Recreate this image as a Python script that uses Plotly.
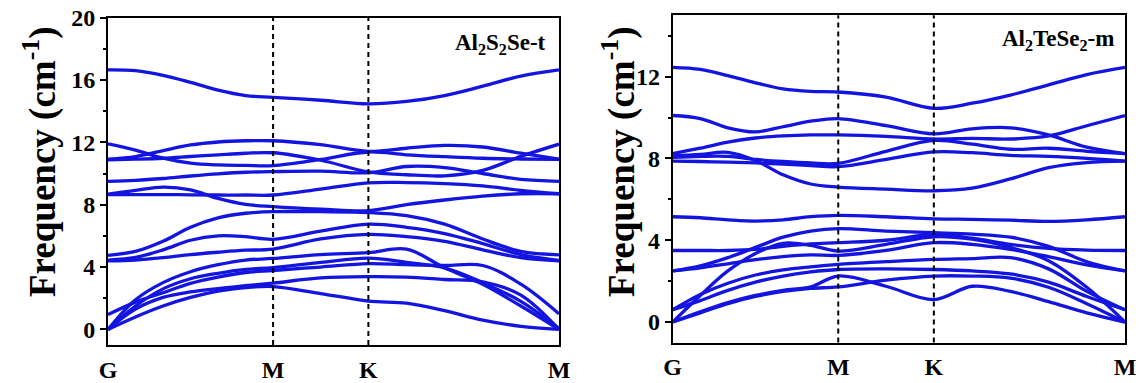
import numpy as np
import plotly.graph_objects as go

# ---------------- data ----------------
# k-path labels
kpath_labels = ["G", "M", "K", "M"]
# sample points: 7 on G-M, mid + K on M-K, 5 on K-M
# ---- left panel: Al2S2Se-t (frequency, cm-1) ----
left_b01 = [0.0, 0.8, 1.5, 2.05, 2.45, 2.68, 2.75, 2.3, 1.82, 1.68, 1.2, 0.6, 0.2, 0.0]
left_b02 = [0.0, 1.3, 2.05, 2.4, 2.62, 2.8, 2.97, 3.3, 3.38, 3.35, 3.2, 3.05, 2.2, 0.0]
left_b03 = [0.95, 1.75, 2.35, 2.95, 3.35, 3.65, 3.78, 4.0, 4.22, 4.15, 4.1, 4.1, 2.9, 1.0]
left_b04 = [0.0, 1.5, 2.6, 3.25, 3.6, 3.85, 3.97, 4.3, 4.57, 4.3, 3.95, 3.0, 1.8, 0.05]
left_b05 = [0.0, 1.9, 3.0, 3.7, 4.15, 4.45, 4.55, 4.8, 4.92, 5.15, 3.95, 2.9, 1.5, 0.0]
left_b06 = [4.4, 4.45, 4.6, 4.8, 4.95, 5.08, 5.15, 5.8, 6.1, 5.95, 5.65, 5.1, 4.6, 4.4]
left_b07 = [4.45, 4.62, 5.1, 5.72, 6.0, 5.95, 5.78, 6.3, 6.75, 6.55, 6.15, 5.5, 4.8, 4.42]
left_b08 = [4.75, 5.0, 5.65, 6.55, 7.15, 7.45, 7.55, 7.55, 7.5, 7.3, 6.75, 5.8, 5.0, 4.78]
left_b09 = [8.68, 8.92, 9.12, 8.95, 8.4, 8.02, 7.88, 7.72, 7.62, 8.0, 8.3, 8.55, 8.7, 8.7]
left_b10 = [8.65, 8.65, 8.65, 8.63, 8.62, 8.62, 8.62, 9.0, 9.4, 9.42, 9.35, 9.2, 8.92, 8.7]
left_b11 = [9.5, 9.56, 9.68, 9.84, 9.98, 10.08, 10.12, 10.15, 10.05, 10.45, 10.38, 10.0, 9.62, 9.5]
left_b12 = [10.88, 10.92, 10.98, 11.09, 11.2, 11.3, 11.33, 10.85, 10.1, 9.92, 9.85, 10.2, 11.1, 11.88]
left_b13 = [11.9, 11.5, 10.98, 10.66, 10.55, 10.52, 10.5, 10.9, 11.38, 11.2, 11.08, 10.98, 10.93, 10.9]
left_b14 = [10.92, 11.09, 11.47, 11.83, 12.02, 12.1, 12.1, 11.85, 11.42, 11.62, 11.8, 11.7, 11.3, 10.92]
left_b15 = [16.65, 16.6, 16.3, 15.85, 15.35, 15.0, 14.88, 14.7, 14.47, 14.62, 15.0, 15.6, 16.25, 16.65]

# ---- right panel: Al2TeSe2-m (frequency, cm-1) ----
right_b01 = [0.0, 0.45, 0.9, 1.25, 1.5, 1.65, 1.72, 2.05, 2.25, 2.25, 2.15, 1.7, 0.9, 0.0]
right_b02 = [0.0, 0.5, 0.95, 1.3, 1.55, 1.72, 2.25, 1.75, 1.1, 1.75, 1.5, 1.0, 0.45, 0.0]
right_b03 = [0.6, 1.05, 1.55, 1.95, 2.25, 2.45, 2.57, 2.6, 2.57, 2.5, 2.35, 1.95, 1.25, 0.6]
right_b04 = [0.6, 1.35, 1.9, 2.3, 2.55, 2.7, 2.82, 2.95, 3.06, 3.1, 3.15, 2.6, 1.5, 0.6]
right_b05 = [2.5, 2.65, 2.85, 3.05, 3.2, 3.28, 3.26, 3.5, 3.88, 3.8, 3.55, 3.2, 2.8, 2.5]
right_b06 = [0.0, 1.3, 2.5, 3.35, 3.85, 3.75, 3.47, 3.8, 4.17, 4.05, 3.65, 3.0, 1.7, 0.0]
right_b07 = [3.5, 3.5, 3.5, 3.55, 3.7, 3.82, 3.88, 4.0, 4.28, 4.1, 3.8, 3.6, 3.52, 3.5]
right_b08 = [2.5, 2.75, 3.15, 3.65, 4.15, 4.45, 4.57, 4.45, 4.37, 4.3, 4.15, 3.7, 2.95, 2.5]
right_b09 = [5.15, 5.1, 5.0, 4.94, 5.0, 5.15, 5.22, 5.15, 5.05, 5.02, 4.98, 4.92, 5.0, 5.15]
right_b10 = [8.13, 8.2, 8.3, 7.9, 7.2, 6.75, 6.6, 6.5, 6.42, 6.55, 7.0, 7.55, 7.8, 7.87]
right_b11 = [7.87, 7.85, 7.82, 7.78, 7.72, 7.65, 7.6, 7.95, 8.32, 8.28, 8.15, 8.1, 8.0, 7.87]
right_b12 = [8.05, 8.1, 8.1, 7.95, 7.85, 7.78, 7.76, 8.35, 8.88, 8.7, 8.45, 8.5, 8.35, 8.24]
right_b13 = [8.24, 8.5, 8.8, 9.0, 9.1, 9.15, 9.15, 9.08, 8.95, 8.98, 8.95, 9.1, 9.6, 10.1]
right_b14 = [10.1, 9.95, 9.5, 9.3, 9.55, 9.82, 9.95, 9.6, 9.2, 9.45, 9.5, 9.15, 8.55, 8.24]
right_b15 = [12.45, 12.35, 12.05, 11.7, 11.4, 11.28, 11.25, 11.0, 10.45, 10.7, 11.1, 11.6, 12.1, 12.45]

left_label = "Al<sub>2</sub>S<sub>2</sub>Se-t"
right_label = "Al<sub>2</sub>TeSe<sub>2</sub>-m"
left_yticks = [0, 4, 8, 12, 16, 20]
right_yticks = [0, 4, 8, 12]

# ---------------- k-path geometry (hexagonal) ----------------
seg = [1 / np.sqrt(3), 1 / 3, 2 / 3]
nodes = np.concatenate([[0], np.cumsum(seg)])
kx = np.concatenate([
    nodes[0] + np.linspace(0, 1, 7) * seg[0],
    nodes[1] + np.array([0.5, 1.0]) * seg[1],
    nodes[2] + np.linspace(0.2, 1, 5) * seg[2],
])

left_bands = [left_b01, left_b02, left_b03, left_b04, left_b05, left_b06, left_b07, left_b08,
              left_b09, left_b10, left_b11, left_b12, left_b13, left_b14, left_b15]
right_bands = [right_b01, right_b02, right_b03, right_b04, right_b05, right_b06, right_b07, right_b08,
               right_b09, right_b10, right_b11, right_b12, right_b13, right_b14, right_b15]

BLUE = "rgb(20,20,225)"
FONT = "Liberation Serif, Times New Roman, serif"
W, H = 1148, 383

fig = go.Figure()
for b in left_bands:
    fig.add_trace(go.Scatter(x=kx, y=b, mode="lines", xaxis="x", yaxis="y",
                             line=dict(color=BLUE, width=3.3, shape="spline", smoothing=1.0),
                             showlegend=False, hoverinfo="skip"))
for b in right_bands:
    fig.add_trace(go.Scatter(x=kx, y=b, mode="lines", xaxis="x2", yaxis="y2",
                             line=dict(color=BLUE, width=3.3, shape="spline", smoothing=1.0),
                             showlegend=False, hoverinfo="skip"))

# dashed high-symmetry lines
for xa, ya in (("x", "y"), ("x2", "y2")):
    for kv in nodes[1:3]:
        fig.add_shape(type="line", xref=xa, yref=ya + " domain", x0=kv, x1=kv, y0=0, y1=1,
                      line=dict(color="black", width=2, dash="5px,4px"), layer="above")

common_x = dict(range=[nodes[0], nodes[-1]], tickvals=list(nodes), ticktext=kpath_labels,
                showline=True, mirror=True, linecolor="black", linewidth=2,
                ticks="", ticklabelstandoff=2,
                tickfont=dict(family=FONT, size=24, color="black", weight="bold"),
                showgrid=False, zeroline=False, automargin=False, fixedrange=True)
common_y = dict(showline=True, mirror=True, linecolor="black", linewidth=2,
                ticks="outside", ticklen=6, tickwidth=2, tickcolor="black",
                minor=dict(dtick=2, tick0=0, ticks="outside", ticklen=3, tickwidth=2, tickcolor="black"),
                tickfont=dict(family=FONT, size=24, color="black", weight="bold"),
                showgrid=False, zeroline=False, automargin=False, fixedrange=True)

fig.update_layout(
    width=W, height=H, margin=dict(l=0, r=0, t=0, b=0),
    paper_bgcolor="white", plot_bgcolor="white", template="none",
    xaxis=dict(domain=[108 / W, 559 / W], anchor="y", **common_x),
    yaxis=dict(domain=[1 - 345 / H, 1 - 17.6 / H], anchor="x", range=[-1, 20],
               tickvals=left_yticks, **common_y),
    xaxis2=dict(domain=[672.7 / W, 1125 / W], anchor="y2", **common_x),
    yaxis2=dict(domain=[1 - 342.5 / H, 1 - 15.3 / H], anchor="x2", range=[-1, 15],
                tickvals=right_yticks, **common_y),
)

title_txt = "<b>Frequency (cm<sup>-1</sup>)</b>"
for xp in (40, 619):
    fig.add_annotation(text=title_txt, xref="paper", yref="paper", x=xp / W, y=1 - 162 / H,
                       textangle=-90, showarrow=False, xanchor="center", yanchor="middle",
                       font=dict(family=FONT, size=37, color="black"))
fig.add_annotation(text="<b>" + left_label + "</b>", xref="paper", yref="paper",
                   x=548 / W, y=1 - 44 / H, showarrow=False, xanchor="right", yanchor="middle",
                   font=dict(family=FONT, size=23, color="black"))
fig.add_annotation(text="<b>" + right_label + "</b>", xref="paper", yref="paper",
                   x=1116 / W, y=1 - 40 / H, showarrow=False, xanchor="right", yanchor="middle",
                   font=dict(family=FONT, size=23, color="black"))

fig.write_html("out.html")
